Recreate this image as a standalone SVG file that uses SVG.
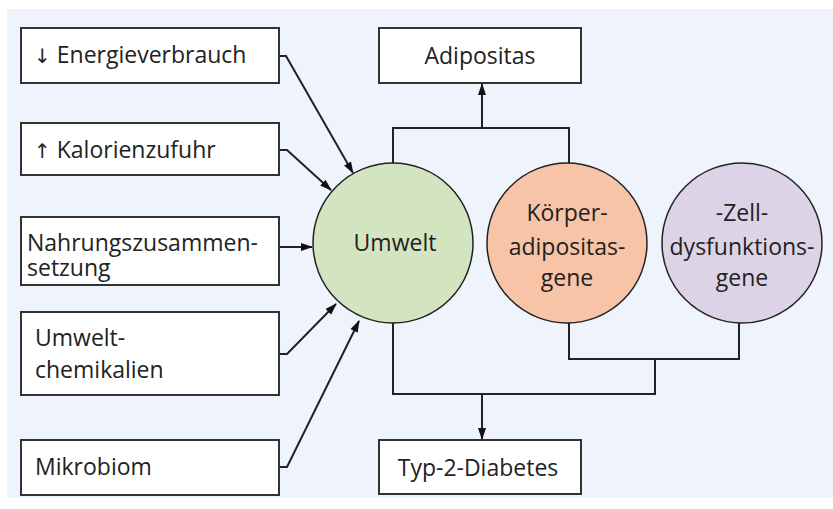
<svg xmlns="http://www.w3.org/2000/svg" width="833" height="509" viewBox="0 0 833 509">
<style>
.box{fill:#fff;stroke:#333;stroke-width:2}
.circ{stroke:#222;stroke-width:1.5}
.t{font-family:"Open Sans","Noto Sans",sans-serif;font-size:23px;fill:#222}
.ar{font-family:"DejaVu Sans",sans-serif;font-size:20px;fill:#222}
.c{text-anchor:middle}
.ln{fill:none;stroke:#222;stroke-width:2}
</style>
<defs>
<marker id="ah" markerWidth="12" markerHeight="10" refX="11" refY="5" orient="auto" markerUnits="userSpaceOnUse">
<path d="M0,1 L12,5 L0,9 Z" fill="#111"/>
</marker>
</defs>
<rect x="0" y="0" width="833" height="509" fill="#fff"/>
<rect x="7" y="9" width="826" height="489" fill="#eff3fb"/>
<g id="connectors">
<path class="ln" d="M279,56 L286,56 L353,173" marker-end="url(#ah)"/>
<path class="ln" d="M279,150 L287,150 L331,190" marker-end="url(#ah)"/>
<path class="ln" d="M279,247 L312,247" marker-end="url(#ah)"/>
<path class="ln" d="M279,354 L287,354 L336,304" marker-end="url(#ah)"/>
<path class="ln" d="M279,467 L287,467 L359,321" marker-end="url(#ah)"/>
<path class="ln" d="M393,163 L393,128 L569,128 L569,163"/>
<path class="ln" d="M482,128 L482,84" marker-end="url(#ah)"/>
<path class="ln" d="M393,323 L393,394 L655,394 L655,359"/>
<path class="ln" d="M569,323 L569,359 L739,359 L739,323"/>
<path class="ln" d="M482,394 L482,439" marker-end="url(#ah)"/>
</g>
<g id="energie">
<rect class="box" x="21" y="28" width="258" height="55"/>
<text class="t" x="34" y="63"><tspan class="ar">↓</tspan> Energieverbrauch</text>
</g>
<g id="kalorien">
<rect class="box" x="21" y="123" width="258" height="52"/>
<text class="t" x="34" y="158"><tspan class="ar">↑</tspan> Kalorienzufuhr</text>
</g>
<g id="nahrung">
<rect class="box" x="21" y="217" width="258" height="68"/>
<text class="t" x="27" y="251">Nahrungszusammen-</text>
<text class="t" x="27" y="276">setzung</text>
</g>
<g id="chemikalien">
<rect class="box" x="21" y="312" width="258" height="83"/>
<text class="t" x="35" y="346">Umwelt-</text>
<text class="t" x="35" y="378">chemikalien</text>
</g>
<g id="mikrobiom">
<rect class="box" x="21" y="440" width="258" height="55"/>
<text class="t" x="35" y="475">Mikrobiom</text>
</g>
<g id="adipositas">
<rect class="box" x="379" y="28" width="202" height="55"/>
<text class="t c" x="480" y="64">Adipositas</text>
</g>
<g id="diabetes">
<rect class="box" x="379" y="440" width="202" height="54"/>
<text class="t c" x="478" y="476">Typ-2-Diabetes</text>
</g>
<g id="umwelt">
<circle class="circ" cx="393" cy="243" r="80" fill="#d3e4c0"/>
<text class="t c" x="395" y="251">Umwelt</text>
</g>
<g id="koerper">
<circle class="circ" cx="567" cy="243" r="80" fill="#f8c4a8"/>
<text class="t c" x="567" y="221">Körper-</text>
<text class="t c" x="567" y="255">adipositas-</text>
<text class="t c" x="567" y="286">gene</text>
</g>
<g id="zell">
<circle class="circ" cx="742" cy="243" r="80" fill="#dcd3e7"/>
<text class="t c" x="742" y="221">-Zell-</text>
<text class="t c" x="742" y="255">dysfunktions-</text>
<text class="t c" x="742" y="286">gene</text>
</g>
</svg>
